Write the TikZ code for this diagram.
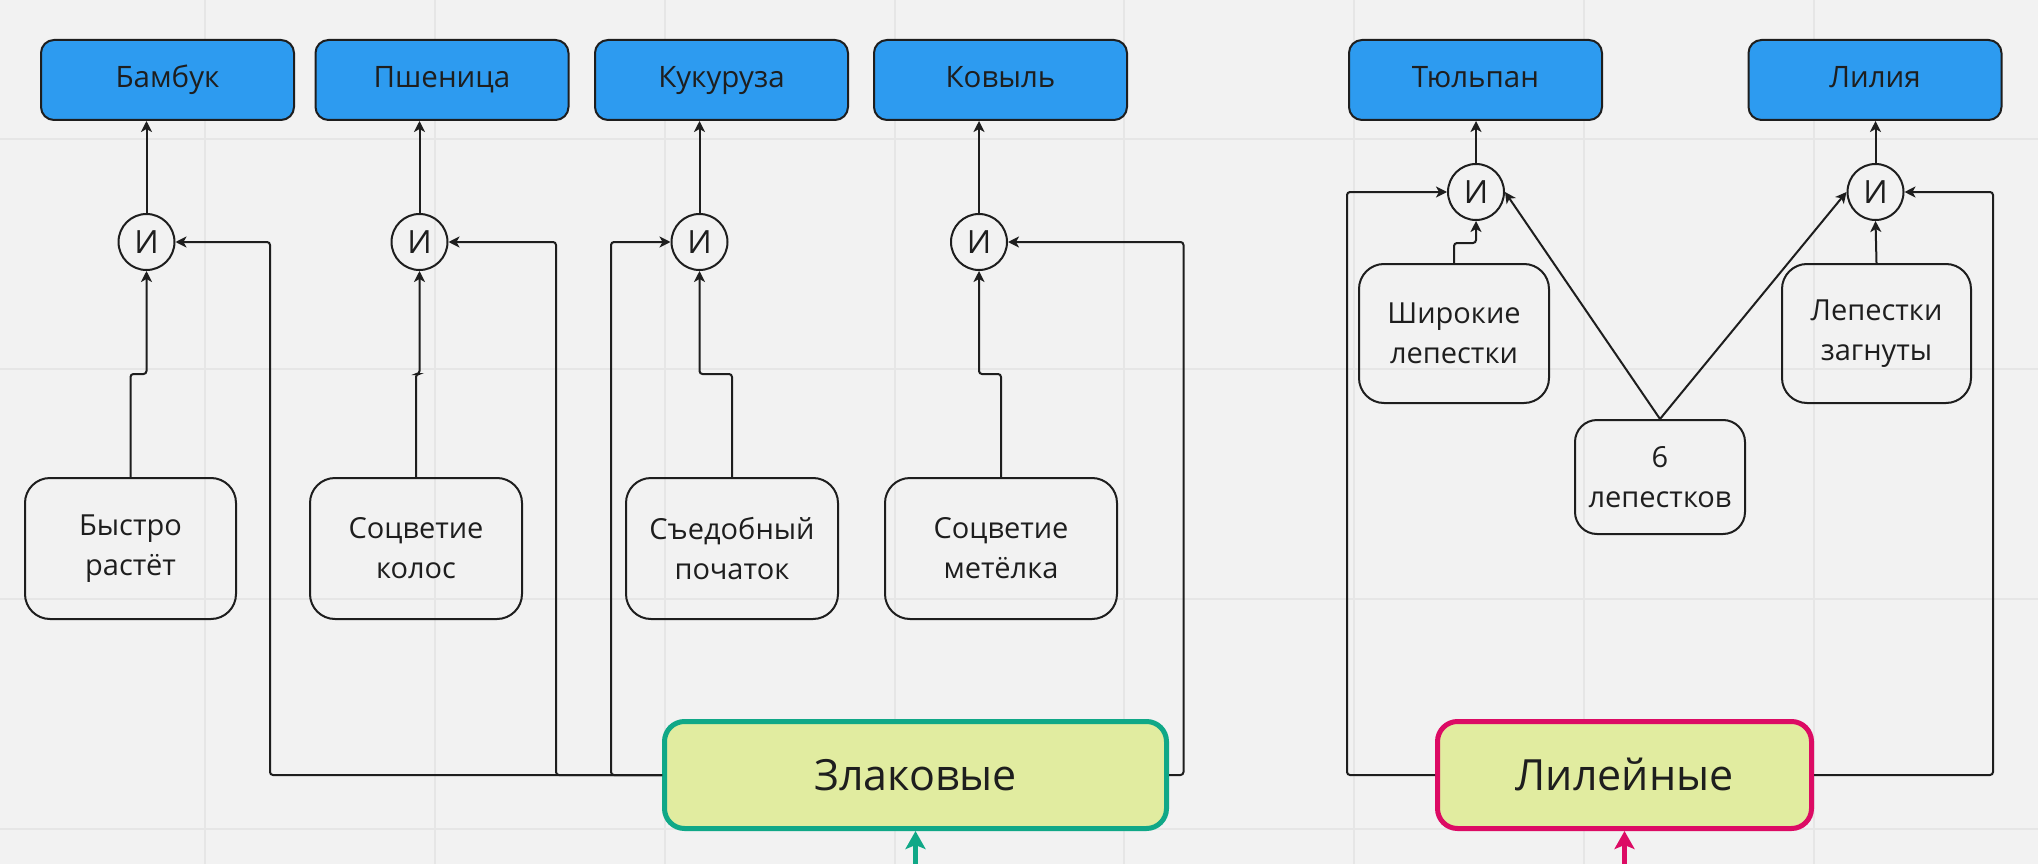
\documentclass[tikz,border=0pt]{standalone}
\usepackage{fontspec}
\setmainfont{Open Sans}
\usetikzlibrary{arrows.meta}
\definecolor{bgc}{HTML}{F2F2F2}
\definecolor{gridc}{HTML}{E6E6E6}
\definecolor{bluec}{HTML}{2D9BF0}
\definecolor{inkc}{HTML}{1E1E1E}
\definecolor{famfill}{HTML}{E1ECA0}
\definecolor{greenc}{HTML}{10A887}
\definecolor{magc}{HTML}{DC0B64}
\tikzset{
  plant/.style={draw=inkc, line width=2pt, fill=bluec, rounded corners=13pt,
    minimum width=253pt, minimum height=80pt, inner sep=0pt, text=inkc,
    text height=22pt, text depth=6pt,
    font=\fontsize{29.5}{38}\selectfont},
  andnode/.style={draw=inkc, line width=2pt, circle, minimum size=56pt, inner sep=0pt,
    text=inkc, font=\fontsize{32}{38}\selectfont},
  feat/.style={draw=inkc, line width=2pt, rounded corners=25pt, minimum height=141pt,
    inner sep=0pt, text=inkc, align=center, font=\fontsize{29}{40}\selectfont},
  family/.style={line width=5pt, fill=famfill, rounded corners=20pt, minimum width=502pt,
    minimum height=107pt, inner sep=0pt, text=inkc, font=\fontsize{43}{50}\selectfont},
  conn/.style={draw=inkc, line width=2pt, rounded corners=3pt,
    -{Stealth[length=11pt,width=11pt,inset=3pt]}},
  famarrow/.style={line width=5pt, -{Stealth[length=18pt,width=20pt,inset=4pt]}},
}
\begin{document}
\begin{tikzpicture}[x=1pt,y=-1pt]
\useasboundingbox (0,0) rectangle (2038,864);
\fill[bgc] (0,0) rectangle (2038,864);
% grid
\foreach \gx in {205,435,665,894.5,1124,1354,1584,1814}
  \draw[gridc, line width=2pt] (\gx,0) -- (\gx,864);
\foreach \gy in {139,369,599,829}
  \draw[gridc, line width=2pt] (0,\gy) -- (2038,\gy);

% plants
\node[plant] (bamb) at (167.5,80) {Бамбук};
\node[plant] (psh)  at (442,80)   {Пшеница};
\node[plant] (kuk)  at (721.5,80) {Кукуруза};
\node[plant] (kov)  at (1000.5,80) {Ковыль};
\node[plant] (tul)  at (1475.5,80) {Тюльпан};
\node[plant] (lil)  at (1875,80)  {Лилия};

% and-nodes
\node[andnode] (c1) at (146.5,242) {И};
\node[andnode] (c2) at (419.5,242) {И};
\node[andnode] (c3) at (699.5,242) {И};
\node[andnode] (c4) at (979,242)   {И};
\node[andnode] (c5) at (1476,192)  {И};
\node[andnode] (c6) at (1875.5,192) {И};

% features
\node[feat, minimum width=211pt] (f1) at (130.5,548.5) {Быстро\\растёт};
\node[feat, minimum width=212pt] (f2) at (416,548.5)   {Соцветие\\колос};
\node[feat, minimum width=212pt] (f3) at (732,548.5)   {Съедобный\\початок};
\node[feat, minimum width=232pt] (f4) at (1001,548.5)  {Соцветие\\метёлка};
\node[feat, minimum width=190pt, minimum height=139pt] (wide) at (1454,333.5) {Широкие\\лепестки};
\node[feat, minimum width=189pt, minimum height=139pt] (bent) at (1876.5,333.5) {Лепестки\\загнуты};
\node[feat, minimum width=170pt, minimum height=114pt, rounded corners=22pt] (six) at (1660,477) {6\\лепестков};

% families
\node[family, draw=greenc] (zl) at (915.5,775) {Злаковые};
\node[family, draw=magc, minimum width=374pt] (li) at (1624.5,775) {Лилейные};

% helper coordinates
\coordinate (jog) at (0,374);
\coordinate (jogb) at (0,243);
\coordinate (v1) at (270,0);
\coordinate (v2) at (556,0);
\coordinate (v3) at (611,0);
\coordinate (v4) at (1183.5,0);
\coordinate (v5) at (1347,0);
\coordinate (v6) at (1993,0);
\coordinate (gin) at (915.5,866);
\coordinate (min) at (1624.5,866);

% and -> plant
\draw[conn] (c1.north) -- (c1.north |- bamb.south);
\draw[conn] (c2.north) -- (c2.north |- psh.south);
\draw[conn] (c3.north) -- (c3.north |- kuk.south);
\draw[conn] (c4.north) -- (c4.north |- kov.south);
\draw[conn] (c5.north) -- (c5.north |- tul.south);
\draw[conn] (c6.north) -- (c6.north |- lil.south);

% feature -> and
\draw[conn] (f1.north) -- (f1.north |- jog) -| (c1.south);
\draw[conn] (f2.north) -- (f2.north |- jog) -| (c2.south);
\draw[conn] (f3.north) -- (f3.north |- jog) -| (c3.south);
\draw[conn] (f4.north) -- (f4.north |- jog) -| (c4.south);
\draw[conn] (wide.north) -- (wide.north |- jogb) -| (c5.south);
\draw[conn] (bent.north) -- (c6.south);
\draw[conn] (six.north) -- (c5.east);
\draw[conn] (six.north) -- (c6.west);

% family -> and
\draw[conn] (zl.west) -| (v1 |- c1.east) -- (c1.east);
\draw[conn] (zl.west) -| (v2 |- c2.east) -- (c2.east);
\draw[conn] (zl.west) -| (v3 |- c3.west) -- (c3.west);
\draw[conn] (zl.east) -| (v4 |- c4.east) -- (c4.east);
\draw[conn] (li.west) -| (v5 |- c5.west) -- (c5.west);
\draw[conn] (li.east) -| (v6 |- c6.east) -- (c6.east);

% incoming family arrows
\draw[famarrow, draw=greenc, fill=greenc] (gin) -- (zl.south);
\draw[famarrow, draw=magc, fill=magc] (min) -- (li.south);
\end{tikzpicture}
\end{document}
